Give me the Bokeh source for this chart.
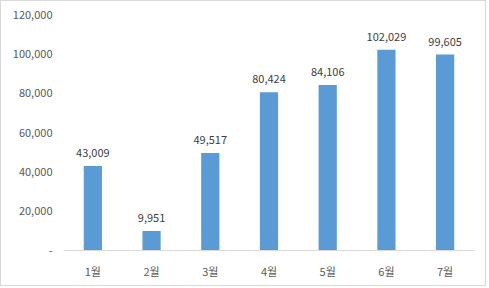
from bokeh.plotting import figure
from bokeh.models import ColumnDataSource, LabelSet, FixedTicker, Range1d
from bokeh.core.properties import value
from bokeh.embed import file_html
from bokeh.resources import INLINE

months = ["1월", "2월", "3월", "4월", "5월", "6월", "7월"]
values = [43009, 9951, 49517, 80424, 84106, 102029, 99605]
y_ticks = [0, 20000, 40000, 60000, 80000, 100000, 120000]

labels = [f"{v:,}" for v in values]
src = ColumnDataSource(dict(month=months, value=values, label=labels))

FONT = "Noto Sans CJK KR"

p = figure(x_range=months, width=486, height=286, output_backend="svg",
           toolbar_location=None, min_border_left=62, min_border_right=13,
           min_border_top=13, min_border_bottom=37)
p.styles = {"border": "1px solid #d9d9d9"}
p.y_range = Range1d(0, 120000)
p.vbar(x="month", top="value", width=0.31, source=src, color="#5B9BD5", line_color=None)

p.add_layout(LabelSet(x="month", y="value", text="label", source=src, y_offset=13,
                      text_align="center", text_baseline="middle",
                      text_font=value(FONT), text_font_size=value("11px"),
                      text_color=value("#404040")))

p.outline_line_color = None
p.xgrid.grid_line_color = None
p.ygrid.grid_line_color = None
p.background_fill_color = "white"
p.border_fill_color = "white"

p.yaxis.ticker = FixedTicker(ticks=y_ticks)
p.yaxis.major_label_overrides = {t: ("-" if t == 0 else f"{t:,}") for t in y_ticks}
p.yaxis.axis_line_color = None
p.yaxis.major_tick_line_color = None
p.yaxis.minor_tick_line_color = None
p.yaxis.major_tick_out = 0
p.yaxis.major_label_standoff = 11

p.xaxis.axis_line_color = "#d9d9d9"
p.xaxis.major_tick_line_color = None
p.xaxis.major_tick_out = 0
p.xaxis.major_label_standoff = 12

for ax in (p.xaxis, p.yaxis):
    ax.major_label_text_font = FONT
    ax.major_label_text_font_size = "11px"
    ax.major_label_text_color = "#595959"

open("out.html", "w").write(file_html(p, INLINE))
